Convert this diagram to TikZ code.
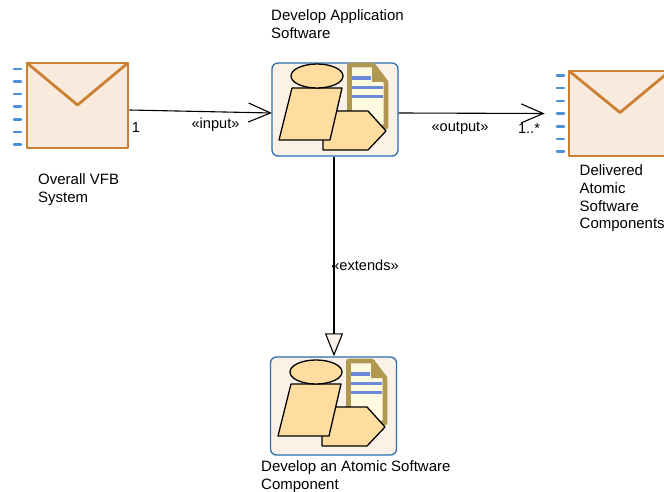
\documentclass[tikz,border=0pt]{standalone}
\usepackage{fontspec}
\setmainfont{Liberation Sans}
\usetikzlibrary{arrows.meta}
\definecolor{artifactfill}{HTML}{F8EADC}
\definecolor{artifactline}{HTML}{CC8033}
\definecolor{portblue}{HTML}{4A90D9}
\definecolor{taskfill}{HTML}{FBF1E6}
\definecolor{taskline}{HTML}{2A6FB0}
\definecolor{iconfill}{HTML}{FFDDA0}
\definecolor{docline}{HTML}{B09850}
\definecolor{docfill}{HTML}{FFF9E0}
\definecolor{docrule}{HTML}{6A8AD8}
\tikzset{
    artifact/.style={draw=artifactline, fill=artifactfill, line width=2.8pt, line join=round, minimum width=101pt, minimum height=85pt, inner sep=0pt},
    envflap/.style={artifactline, line width=2.8pt, line join=round},
    portdash/.style={portblue, line width=2.6pt, line cap=round},
    taskbox/.style={draw=taskline, fill=taskfill, line width=1.3pt, rounded corners=6pt, minimum width=126pt, inner sep=0pt},
    iconpart/.style={draw=black, fill=iconfill, line width=1.3pt, line join=round},
    caption/.style={font=\fontsize{15}{17.7}\selectfont, align=left, anchor=north west, inner sep=0pt},
    conlabel/.style={font=\fontsize{14.6}{17}\selectfont, inner sep=0pt},
    flow/.style={-{Straight Barb[length=22pt,width=19pt]}, line width=1.1pt},
    extendsline/.style={-{Triangle[open,length=23pt,width=18pt,fill=taskfill]}, line width=1.1pt}
}
% icon of a task, (#1,#2) is the top left corner of the box
\newcommand{\taskicon}[2]{
    \begin{scope}[shift={(#1,#2)}]
        % document
        \draw[fill=docfill, draw=docline, line width=4.6pt, line join=round] (77.5,2) -- (101,2) -- (114,19) -- (114,64) -- (77.5,64) -- cycle;
        \fill[docline] (100,1) -- (103,1) -- (116,19) -- (100,19) -- cycle;
        \draw[docrule, line width=3.6pt] (80,15) -- (99,15);
        \draw[docrule, line width=2.6pt] (80,24.5) -- (111,24.5);
        \draw[docrule, line width=3.6pt] (80,33.5) -- (111,33.5);
        % pentagon
        \draw[iconpart] (51,48) -- (96,48) -- (114,68) -- (96,87) -- (51,87) -- cycle;
        % parallelogram and ellipse
        \draw[iconpart] (20,25) -- (70,25) -- (58,77) -- (7,77) -- cycle;
        \draw[iconpart] (45,13) ellipse (26pt and 12pt);
    \end{scope}
}
\begin{document}
\begin{tikzpicture}[x=1pt,y=-1pt]
    \useasboundingbox (0,0) rectangle (664,492);

    % Artifacts
    \node[artifact] (overall) at (77.5,105.5) {};
    \node[artifact] (delivered) at (619.5,113.5) {};
    \draw[envflap] ([xshift=1pt,yshift=-1pt]overall.north west) -- (77.5,105) -- ([xshift=-1pt,yshift=-1pt]overall.north east);
    \draw[envflap] ([xshift=1pt,yshift=-1pt]delivered.north west) -- (620,112.5) -- ([xshift=-1pt,yshift=-1pt]delivered.north east);

    % Port dashes
    \foreach \y in {69,81.6,94.2,106.8,119.4,132,144.6} {
        \draw[portdash] (14,\y) -- (21,\y);
    }
    \foreach \y in {75.5,88.2,100.9,113.6,126.3,139,151.7} {
        \draw[portdash] (557,\y) -- (564,\y);
    }

    % Tasks
    \node[taskbox, minimum height=93pt] (application) at (335,109.5) {};
    \node[taskbox, minimum height=98pt] (atomic) at (333.5,406) {};
    \taskicon{272}{63}
    \taskicon{271}{359}

    % Captions
    \node[caption] (applicationtext) at (271,9.6) {Develop Application\\Software};
    \node[caption] (overalltext) at (38,173.6) {Overall VFB\\System};
    \node[caption] (deliveredtext) at (579.5,164.6) {Delivered\\Atomic\\Software\\Components};
    \node[caption] (atomictext) at (261,460.6) {Develop an Atomic Software\\Component};

    % Connectors
    \draw[flow] ([yshift=-4.5pt]overall.east) -- ([xshift=0.5pt,yshift=-3.5pt]application.west);
    \draw[flow] ([yshift=-3.5pt]application.east) -- ([xshift=-23pt]delivered.west);
    \draw[extendsline] (application.south -| 334,0) -- (atomic.north -| 334,0);

    % Connector labels
    \node[conlabel] (inputlabel) at (215.5,125) {«input»};
    \node[conlabel] (outputlabel) at (460,128) {«output»};
    \node[conlabel] (extendslabel) at (365,265) {«extends»};
    \node[conlabel] (overallend) at (136,127) {1};
    \node[conlabel] (deliveredend) at (529,128) {1..*};
\end{tikzpicture}
\end{document}
